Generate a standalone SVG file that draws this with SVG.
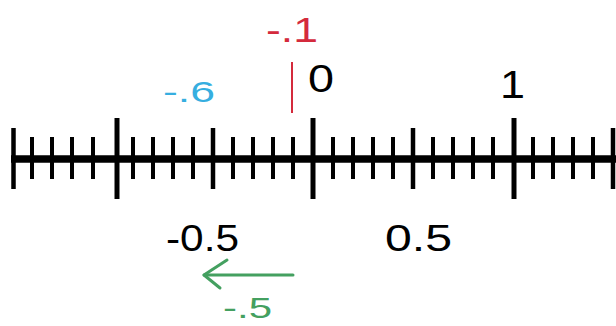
<svg xmlns="http://www.w3.org/2000/svg" width="616" height="326" viewBox="0 0 616 326">
<style>
.axis{stroke:#000;stroke-width:7.5;fill:none}
.maj{stroke:#000;stroke-width:5}
.med{stroke:#000;stroke-width:4.5}
.min{stroke:#000;stroke-width:4}
.lbl{font-family:"Liberation Sans",Arial,sans-serif;fill:#000}
</style>
<rect width="616" height="326" fill="#fff"/>
<g id="ruler">
<line class="axis" x1="11" y1="159" x2="616" y2="159"/>
<g class="maj">
<line x1="117" y1="118" x2="117" y2="199"/>
<line x1="313" y1="118" x2="313" y2="199"/>
<line x1="514" y1="118" x2="514" y2="199"/>
</g>
<g class="med">
<line x1="13.5" y1="128" x2="13.5" y2="189"/>
<line x1="213" y1="128" x2="213" y2="189"/>
<line x1="413" y1="128" x2="413" y2="189"/>
<line x1="613" y1="128" x2="613" y2="189"/>
</g>
<g class="min">
<line x1="32" y1="137" x2="32" y2="179"/>
<line x1="52" y1="137" x2="52" y2="179"/>
<line x1="72" y1="137" x2="72" y2="179"/>
<line x1="93" y1="137" x2="93" y2="179"/>
<line x1="133" y1="137" x2="133" y2="179"/>
<line x1="153" y1="137" x2="153" y2="179"/>
<line x1="173" y1="137" x2="173" y2="179"/>
<line x1="193" y1="137" x2="193" y2="179"/>
<line x1="233" y1="137" x2="233" y2="179"/>
<line x1="253" y1="137" x2="253" y2="179"/>
<line x1="273" y1="137" x2="273" y2="179"/>
<line x1="293" y1="137" x2="293" y2="179"/>
<line x1="333" y1="137" x2="333" y2="179"/>
<line x1="353" y1="137" x2="353" y2="179"/>
<line x1="373" y1="137" x2="373" y2="179"/>
<line x1="393" y1="137" x2="393" y2="179"/>
<line x1="433" y1="137" x2="433" y2="179"/>
<line x1="453" y1="137" x2="453" y2="179"/>
<line x1="473" y1="137" x2="473" y2="179"/>
<line x1="493" y1="137" x2="493" y2="179"/>
<line x1="533" y1="137" x2="533" y2="179"/>
<line x1="553" y1="137" x2="553" y2="179"/>
<line x1="573" y1="137" x2="573" y2="179"/>
<line x1="593" y1="137" x2="593" y2="179"/>
</g>
</g>
<g id="labels">
<text class="lbl" x="308" y="92" font-size="38" textLength="26" lengthAdjust="spacingAndGlyphs">0</text>
<text class="lbl" x="500" y="98" font-size="38" textLength="25" lengthAdjust="spacingAndGlyphs">1</text>
<text class="lbl" x="166" y="251" font-size="36" textLength="73" lengthAdjust="spacingAndGlyphs">-0.5</text>
<text class="lbl" x="385" y="251" font-size="37" textLength="67" lengthAdjust="spacingAndGlyphs">0.5</text>
</g>
<g id="red-mark">
<line x1="292" y1="62" x2="292" y2="113" stroke="#d42a3c" stroke-width="2"/>
<text class="lbl" x="266" y="42" font-size="35" textLength="52" lengthAdjust="spacingAndGlyphs" style="fill:#d42a3c">-.1</text>
</g>
<g id="cyan-mark">
<text class="lbl" x="163" y="102" font-size="30" textLength="52" lengthAdjust="spacingAndGlyphs" style="fill:#36aee0">-.6</text>
</g>
<g id="connectors">
<g fill="none" stroke="#44a060" stroke-width="3" stroke-linecap="round" stroke-linejoin="round">
<line x1="204" y1="275" x2="293" y2="275"/>
<polyline points="227,260 204,275 220,288"/>
</g>
<text class="lbl" x="223" y="318" font-size="30" textLength="49" lengthAdjust="spacingAndGlyphs" style="fill:#44a060">-.5</text>
</g>
</svg>
